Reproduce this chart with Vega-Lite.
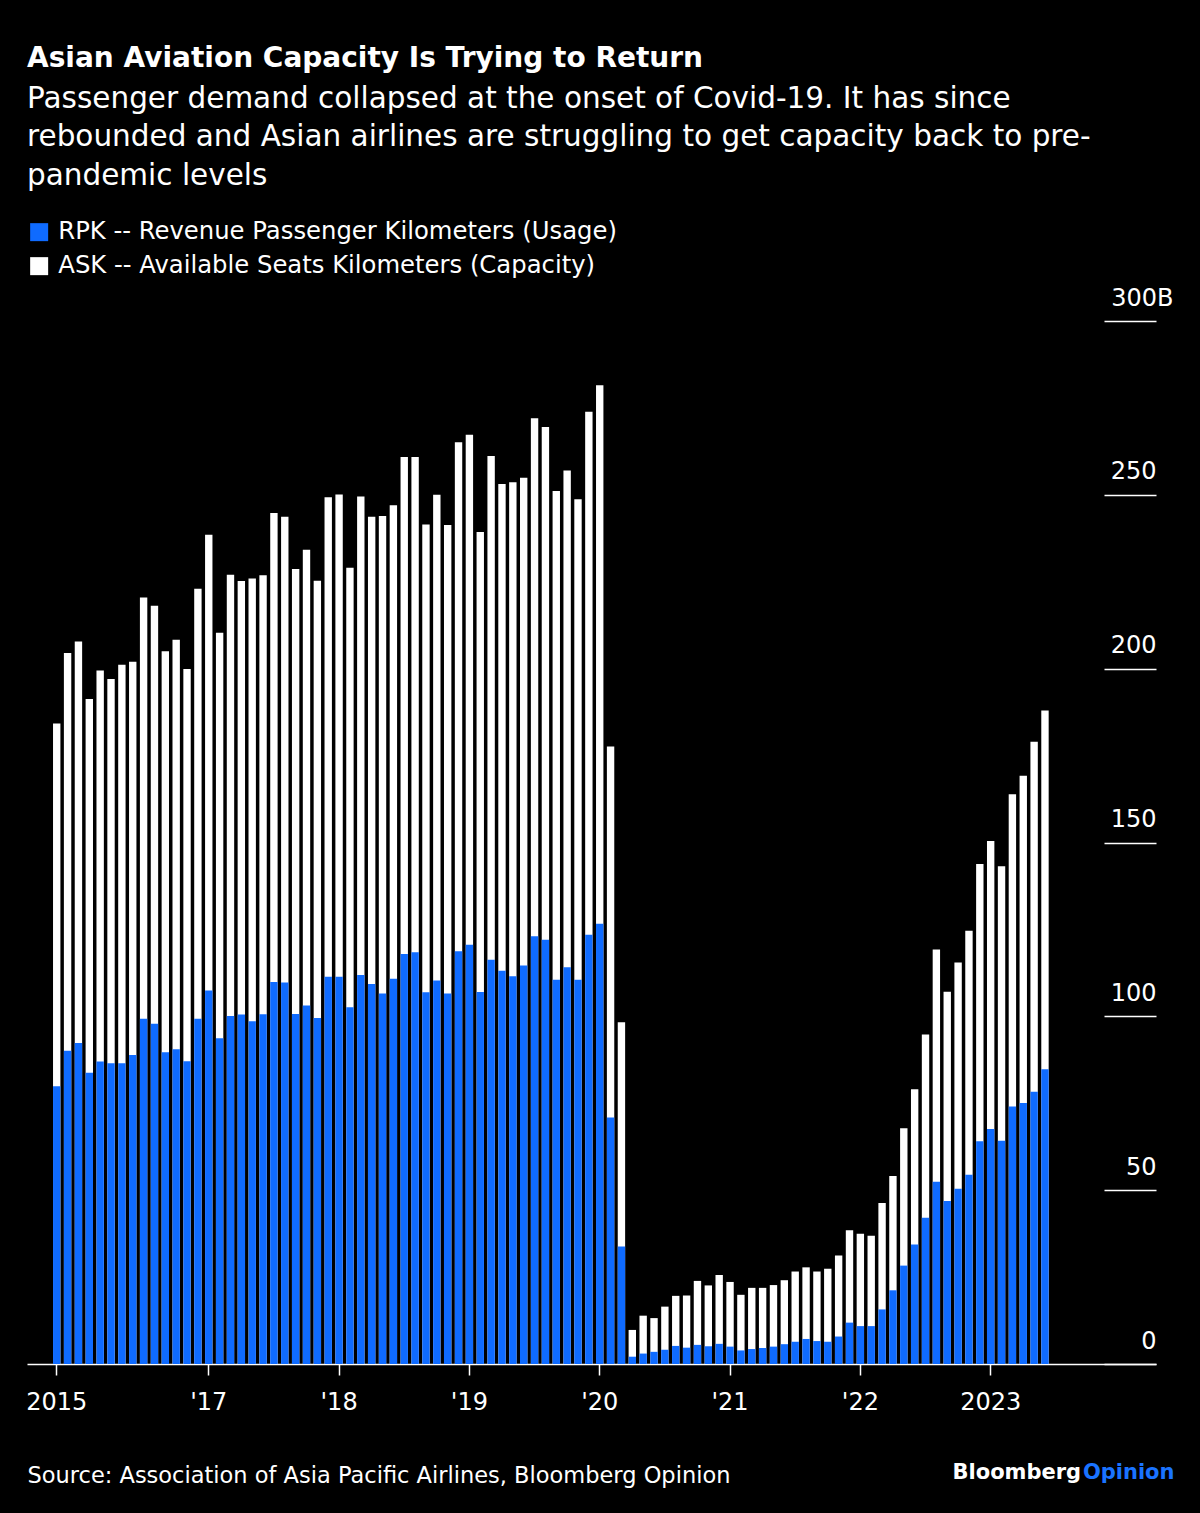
{
  "$schema": "https://vega.github.io/schema/vega-lite/v6.json",
  "width": 1129,
  "height": 1043,
  "autosize": {"type": "none"},
  "padding": {"left": 27, "top": 321, "right": 44, "bottom": 149},
  "background": "#000000",
  "config": {"view": {"stroke": null}, "font": "DejaVu Sans"},
  "title": {
    "text": "Asian Aviation Capacity Is Trying to Return",
    "subtitle": ["Passenger demand collapsed at the onset of Covid-19. It has since", "rebounded and Asian airlines are struggling to get capacity back to pre-", "pandemic levels"],
    "anchor": "start",
    "frame": "group",
    "orient": "top",
    "font": "DejaVu Sans",
    "fontSize": 28,
    "fontWeight": "bold",
    "color": "#ffffff",
    "subtitleFont": "DejaVu Sans",
    "subtitleFontSize": 29.5,
    "subtitleColor": "#ffffff",
    "subtitleLineHeight": 38.5,
    "subtitlePadding": 12,
    "offset": 30
  },
  "data": {"values": [
    {"month": "2015-11", "ask": 184.2, "rpk": 79.9},
    {"month": "2015-12", "ask": 204.5, "rpk": 90.1},
    {"month": "2016-01", "ask": 207.8, "rpk": 92.3},
    {"month": "2016-02", "ask": 191.3, "rpk": 83.8},
    {"month": "2016-03", "ask": 199.5, "rpk": 87.0},
    {"month": "2016-04", "ask": 197.0, "rpk": 86.5},
    {"month": "2016-05", "ask": 201.1, "rpk": 86.5},
    {"month": "2016-06", "ask": 202.0, "rpk": 88.9},
    {"month": "2016-07", "ask": 220.5, "rpk": 99.3},
    {"month": "2016-08", "ask": 218.1, "rpk": 97.9},
    {"month": "2016-09", "ask": 205.0, "rpk": 89.7},
    {"month": "2016-10", "ask": 208.3, "rpk": 90.5},
    {"month": "2016-11", "ask": 199.9, "rpk": 87.1},
    {"month": "2016-12", "ask": 223.0, "rpk": 99.3},
    {"month": "2017-01", "ask": 238.5, "rpk": 107.4},
    {"month": "2017-02", "ask": 210.3, "rpk": 93.7},
    {"month": "2017-03", "ask": 227.0, "rpk": 100.1},
    {"month": "2017-04", "ask": 225.2, "rpk": 100.5},
    {"month": "2017-05", "ask": 225.9, "rpk": 98.6},
    {"month": "2017-06", "ask": 226.9, "rpk": 100.6},
    {"month": "2017-07", "ask": 244.8, "rpk": 109.9},
    {"month": "2017-08", "ask": 243.7, "rpk": 109.7},
    {"month": "2017-09", "ask": 228.7, "rpk": 100.7},
    {"month": "2017-10", "ask": 234.2, "rpk": 103.1},
    {"month": "2017-11", "ask": 225.3, "rpk": 99.5},
    {"month": "2017-12", "ask": 249.3, "rpk": 111.4},
    {"month": "2018-01", "ask": 250.1, "rpk": 111.4},
    {"month": "2018-02", "ask": 229.0, "rpk": 102.6},
    {"month": "2018-03", "ask": 249.5, "rpk": 111.9},
    {"month": "2018-04", "ask": 243.7, "rpk": 109.3},
    {"month": "2018-05", "ask": 243.9, "rpk": 106.6},
    {"month": "2018-06", "ask": 247.0, "rpk": 110.8},
    {"month": "2018-07", "ask": 260.9, "rpk": 117.9},
    {"month": "2018-08", "ask": 260.9, "rpk": 118.4},
    {"month": "2018-09", "ask": 241.5, "rpk": 106.9},
    {"month": "2018-10", "ask": 250.0, "rpk": 110.3},
    {"month": "2018-11", "ask": 241.3, "rpk": 106.6},
    {"month": "2018-12", "ask": 265.1, "rpk": 118.7},
    {"month": "2019-01", "ask": 267.3, "rpk": 120.6},
    {"month": "2019-02", "ask": 239.3, "rpk": 107.0},
    {"month": "2019-03", "ask": 261.2, "rpk": 116.3},
    {"month": "2019-04", "ask": 253.1, "rpk": 113.1},
    {"month": "2019-05", "ask": 253.6, "rpk": 111.5},
    {"month": "2019-06", "ask": 254.9, "rpk": 114.6},
    {"month": "2019-07", "ask": 272.0, "rpk": 123.0},
    {"month": "2019-08", "ask": 269.5, "rpk": 122.0},
    {"month": "2019-09", "ask": 251.1, "rpk": 110.5},
    {"month": "2019-10", "ask": 257.0, "rpk": 114.1},
    {"month": "2019-11", "ask": 248.7, "rpk": 110.5},
    {"month": "2019-12", "ask": 273.9, "rpk": 123.5},
    {"month": "2020-01", "ask": 281.5, "rpk": 126.6},
    {"month": "2020-02", "ask": 177.6, "rpk": 70.9},
    {"month": "2020-03", "ask": 98.3, "rpk": 33.8},
    {"month": "2020-04", "ask": 9.8, "rpk": 2.1},
    {"month": "2020-05", "ask": 13.9, "rpk": 3.0},
    {"month": "2020-06", "ask": 13.2, "rpk": 3.5},
    {"month": "2020-07", "ask": 16.5, "rpk": 4.1},
    {"month": "2020-08", "ask": 19.6, "rpk": 5.2},
    {"month": "2020-09", "ask": 19.7, "rpk": 4.7},
    {"month": "2020-10", "ask": 23.9, "rpk": 5.5},
    {"month": "2020-11", "ask": 22.6, "rpk": 5.1},
    {"month": "2020-12", "ask": 25.6, "rpk": 5.8},
    {"month": "2021-01", "ask": 23.6, "rpk": 5.0},
    {"month": "2021-02", "ask": 19.9, "rpk": 3.9},
    {"month": "2021-03", "ask": 21.9, "rpk": 4.3},
    {"month": "2021-04", "ask": 21.9, "rpk": 4.6},
    {"month": "2021-05", "ask": 22.7, "rpk": 5.0},
    {"month": "2021-06", "ask": 24.1, "rpk": 5.7},
    {"month": "2021-07", "ask": 26.6, "rpk": 6.4},
    {"month": "2021-08", "ask": 27.8, "rpk": 7.2},
    {"month": "2021-09", "ask": 26.6, "rpk": 6.6},
    {"month": "2021-10", "ask": 27.4, "rpk": 6.4},
    {"month": "2021-11", "ask": 31.2, "rpk": 7.9},
    {"month": "2021-12", "ask": 38.5, "rpk": 11.9},
    {"month": "2022-01", "ask": 37.5, "rpk": 10.9},
    {"month": "2022-02", "ask": 36.9, "rpk": 10.9},
    {"month": "2022-03", "ask": 46.3, "rpk": 15.7},
    {"month": "2022-04", "ask": 54.1, "rpk": 21.2},
    {"month": "2022-05", "ask": 67.8, "rpk": 28.3},
    {"month": "2022-06", "ask": 79.0, "rpk": 34.4},
    {"month": "2022-07", "ask": 94.8, "rpk": 42.1},
    {"month": "2022-08", "ask": 119.2, "rpk": 52.4},
    {"month": "2022-09", "ask": 107.1, "rpk": 46.9},
    {"month": "2022-10", "ask": 115.5, "rpk": 50.4},
    {"month": "2022-11", "ask": 124.6, "rpk": 54.4},
    {"month": "2022-12", "ask": 143.8, "rpk": 64.1},
    {"month": "2023-01", "ask": 150.4, "rpk": 67.6},
    {"month": "2023-02", "ask": 143.2, "rpk": 64.2},
    {"month": "2023-03", "ask": 163.9, "rpk": 74.1},
    {"month": "2023-04", "ask": 169.2, "rpk": 75.1},
    {"month": "2023-05", "ask": 179.0, "rpk": 78.3},
    {"month": "2023-06", "ask": 188.0, "rpk": 84.8}
  ]},
  "layer": [
    {
      "mark": {"type": "bar"},
      "encoding": {
        "x": {
          "field": "month", "type": "ordinal", "sort": null,
          "scale": {"type": "band", "paddingInner": 0.32, "paddingOuter": 0.64, "align": 0.31, "round": false,
            "domain": ["2015-09", "2015-10", "2015-11", "2015-12",
              "2016-01", "2016-02", "2016-03", "2016-04", "2016-05", "2016-06", "2016-07", "2016-08", "2016-09", "2016-10", "2016-11", "2016-12",
              "2017-01", "2017-02", "2017-03", "2017-04", "2017-05", "2017-06", "2017-07", "2017-08", "2017-09", "2017-10", "2017-11", "2017-12",
              "2018-01", "2018-02", "2018-03", "2018-04", "2018-05", "2018-06", "2018-07", "2018-08", "2018-09", "2018-10", "2018-11", "2018-12",
              "2019-01", "2019-02", "2019-03", "2019-04", "2019-05", "2019-06", "2019-07", "2019-08", "2019-09", "2019-10", "2019-11", "2019-12",
              "2020-01", "2020-02", "2020-03", "2020-04", "2020-05", "2020-06", "2020-07", "2020-08", "2020-09", "2020-10", "2020-11", "2020-12",
              "2021-01", "2021-02", "2021-03", "2021-04", "2021-05", "2021-06", "2021-07", "2021-08", "2021-09", "2021-10", "2021-11", "2021-12",
              "2022-01", "2022-02", "2022-03", "2022-04", "2022-05", "2022-06", "2022-07", "2022-08", "2022-09", "2022-10", "2022-11", "2022-12",
              "2023-01", "2023-02", "2023-03", "2023-04", "2023-05", "2023-06", "2023-07", "2023-08", "2023-09", "2023-10", "2023-11", "2023-12",
              "2024-01", "2024-02", "2024-03"]},
          "axis": {
            "orient": "bottom",
            "values": ["2015-11", "2017-01", "2018-01", "2019-01", "2020-01", "2021-01", "2022-01", "2023-01"],
            "labelExpr": "datum.value == '2015-11' ? '2015' : (datum.value == '2023-01' ? '2023' : \"'\" + substring(datum.value, 2, 4))",
            "bandPosition": 0.5,
            "labelAngle": 0,
            "labelFont": "DejaVu Sans",
            "labelFontSize": 24,
            "labelColor": "#ffffff",
            "labelBaseline": "top",
            "labelPadding": 15,
            "labelOverlap": false,
            "labelFlush": false,
            "ticks": true,
            "tickSize": 11,
            "tickColor": "#ffffff",
            "tickWidth": 1.5,
            "domain": true,
            "domainColor": "#ffffff",
            "domainWidth": 1.5,
            "grid": false,
            "title": "Source: Association of Asia Pacific Airlines, Bloomberg Opinion",
            "titleFont": "DejaVu Sans",
            "titleFontSize": 22.5,
            "titleFontWeight": "normal",
            "titleColor": "#ffffff",
            "titleAnchor": "start",
            "titleAlign": "left",
            "titleBaseline": "alphabetic",
            "titleX": 0,
            "titleY": 118
          }
        },
        "y": {
          "field": "ask", "type": "quantitative",
          "scale": {"domain": [0, 300], "nice": false, "zero": true},
          "axis": {
            "orient": "right",
            "values": [0, 50, 100, 150, 200, 250, 300],
            "labelExpr": "datum.value == 300 ? '300B' : datum.label",
            "grid": false,
            "domain": false,
            "ticks": true,
            "tickSize": -52,
            "tickColor": "#ffffff",
            "tickWidth": 1.5,
            "labelAlign": "right",
            "labelBaseline": "alphabetic",
            "labelOffset": -16,
            "labelPadding": {"condition": {"test": "datum.value == 300", "value": 69}, "value": 52},
            "labelFont": "DejaVu Sans",
            "labelFontSize": 24,
            "labelColor": "#ffffff",
            "labelOverlap": false,
            "labelFlush": false,
            "title": null
          }
        },
        "color": {
          "datum": "ASK -- Available Seats Kilometers (Capacity)",
          "type": "nominal",
          "scale": {
            "domain": ["RPK -- Revenue Passenger Kilometers (Usage)", "ASK -- Available Seats Kilometers (Capacity)"],
            "range": ["#0f6bff", "#ffffff"]
          },
          "legend": {
            "orient": "none",
            "legendX": 0,
            "legendY": -101,
            "direction": "vertical",
            "title": null,
            "symbolType": "square",
            "symbolSize": 324,
            "symbolStrokeWidth": 0,
            "symbolOpacity": 1,
            "labelFont": "DejaVu Sans",
            "labelFontSize": 24.3,
            "labelColor": "#ffffff",
            "labelLimit": 1000,
            "labelOffset": 7,
            "rowPadding": 9,
            "padding": 0
          }
        }
      }
    },
    {
      "mark": {"type": "bar"},
      "encoding": {
        "x": {
          "field": "month", "type": "ordinal", "sort": null,
          "scale": {"type": "band", "paddingInner": 0.32, "paddingOuter": 0.64, "align": 0.31, "round": false,
            "domain": ["2015-09", "2015-10", "2015-11", "2015-12",
              "2016-01", "2016-02", "2016-03", "2016-04", "2016-05", "2016-06", "2016-07", "2016-08", "2016-09", "2016-10", "2016-11", "2016-12",
              "2017-01", "2017-02", "2017-03", "2017-04", "2017-05", "2017-06", "2017-07", "2017-08", "2017-09", "2017-10", "2017-11", "2017-12",
              "2018-01", "2018-02", "2018-03", "2018-04", "2018-05", "2018-06", "2018-07", "2018-08", "2018-09", "2018-10", "2018-11", "2018-12",
              "2019-01", "2019-02", "2019-03", "2019-04", "2019-05", "2019-06", "2019-07", "2019-08", "2019-09", "2019-10", "2019-11", "2019-12",
              "2020-01", "2020-02", "2020-03", "2020-04", "2020-05", "2020-06", "2020-07", "2020-08", "2020-09", "2020-10", "2020-11", "2020-12",
              "2021-01", "2021-02", "2021-03", "2021-04", "2021-05", "2021-06", "2021-07", "2021-08", "2021-09", "2021-10", "2021-11", "2021-12",
              "2022-01", "2022-02", "2022-03", "2022-04", "2022-05", "2022-06", "2022-07", "2022-08", "2022-09", "2022-10", "2022-11", "2022-12",
              "2023-01", "2023-02", "2023-03", "2023-04", "2023-05", "2023-06", "2023-07", "2023-08", "2023-09", "2023-10", "2023-11", "2023-12",
              "2024-01", "2024-02", "2024-03"]},
          "axis": {
            "orient": "bottom",
            "labels": false,
            "ticks": false,
            "domain": false,
            "grid": false,
            "title": "Bloomberg",
            "titleFont": "DejaVu Sans",
            "titleFontSize": 21,
            "titleFontWeight": "bold",
            "titleColor": "#ffffff",
            "titleAnchor": "start",
            "titleAlign": "left",
            "titleBaseline": "alphabetic",
            "titleX": 925,
            "titleY": 114
          }
        },
        "y": {
          "field": "rpk", "type": "quantitative",
          "scale": {"domain": [0, 300], "nice": false, "zero": true},
          "axis": {
            "orient": "left",
            "labels": false,
            "ticks": false,
            "domain": false,
            "grid": false,
            "title": "Opinion",
            "titleAngle": 0,
            "titleFont": "DejaVu Sans",
            "titleFontSize": 21,
            "titleFontWeight": "bold",
            "titleColor": "#1a73ff",
            "titleAlign": "right",
            "titleBaseline": "alphabetic",
            "titleX": 1147,
            "titleY": 1157
          }
        },
        "color": {
          "datum": "RPK -- Revenue Passenger Kilometers (Usage)",
          "type": "nominal",
          "scale": {
            "domain": ["RPK -- Revenue Passenger Kilometers (Usage)", "ASK -- Available Seats Kilometers (Capacity)"],
            "range": ["#0f6bff", "#ffffff"]
          }
        }
      }
    }
  ],
  "resolve": {"axis": {"x": "independent", "y": "independent"}}
}
